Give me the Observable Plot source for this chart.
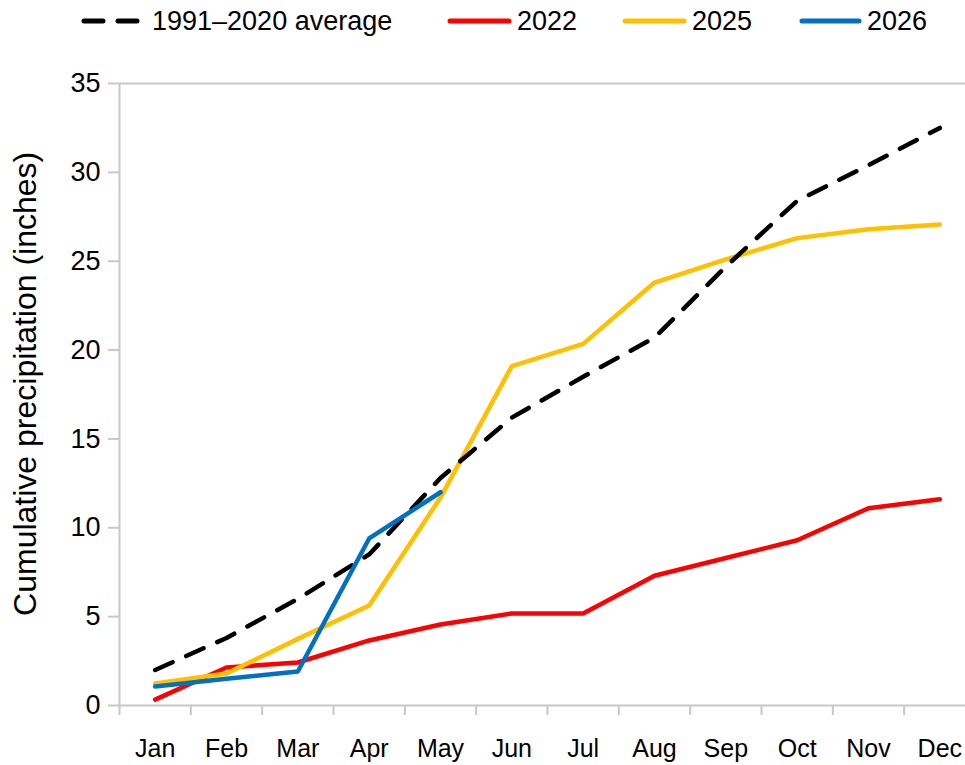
<!DOCTYPE html>
<html>
<head>
<meta charset="utf-8">
<script src="https://cdn.jsdelivr.net/npm/d3@7"></script>
<script src="https://cdn.jsdelivr.net/npm/@observablehq/plot@0.6"></script>
<style>
  html, body { margin: 0; padding: 0; background: #fff; overflow: hidden; }
  body { width: 965px; height: 765px; font-family: "Liberation Sans", Arial, sans-serif; }
  #legend { position: relative; height: 45px; width: 965px; }
  .item { position: absolute; top: 0; height: 42px; display: flex; align-items: center; font-size: 27px; color: #000; }
  .item svg { margin-right: 5px; }
  #chart svg { display: block; overflow: visible; }
</style>
</head>
<body>
<div id="legend"></div>
<div id="chart"></div>
<script>
const months = ["Jan","Feb","Mar","Apr","May","Jun","Jul","Aug","Sep","Oct","Nov","Dec"];
const average = [2.0, 3.8, 6.0, 8.5, 12.8, 16.2, 18.5, 20.7, 24.7, 28.4, 30.4, 32.5];
const y2022 = [0.33, 2.14, 2.42, 3.66, 4.56, 5.18, 5.18, 7.3, 8.3, 9.3, 11.1, 11.6];
const y2025 = [1.24, 1.8, 3.75, 5.63, 11.7, 19.1, 20.35, 23.8, 25.1, 26.3, 26.8, 27.07];
const y2026 = [1.07, 1.5, 1.91, 9.4, 12.0];
const yTicks = [0, 5, 10, 15, 20, 25, 30, 35];
const seriesNames = ["1991\u20132020 average", "2022", "2025", "2026"];
const seriesColors = ["#000000", "#FF0000", "#FFC000", "#0070C0"];

const toRows = (arr, name) => arr.map((v, i) => ({month: i + 1, value: v, series: name}));
const avgRows = toRows(average, seriesNames[0]);
const r2022 = toRows(y2022, seriesNames[1]);
const r2025 = toRows(y2025, seriesNames[2]);
const r2026 = toRows(y2026, seriesNames[3]);

// Legend
const legendPos = [[81, 66], [447, 65], [622, 65], [799, 63]];
const legend = document.getElementById("legend");
seriesNames.forEach((name, i) => {
  const div = document.createElement("div");
  div.className = "item";
  div.style.left = legendPos[i][0] + "px";
  const w = legendPos[i][1];
  const dash = i === 0 ? ' stroke-dasharray="19,15"' : '';
  div.innerHTML = `<svg width="${w}" height="10"><line x1="3" y1="5" x2="${w-3}" y2="5" stroke="${seriesColors[i]}" stroke-width="5" stroke-linecap="round"${dash}/></svg><span>${name}</span>`;
  legend.appendChild(div);
});

const gray = "#c8c8c8";
const bandEdges = d3.range(0, 13).map(i => i + 0.5);
const monthIdx = months.map((m, i) => i + 1);

const plot = Plot.plot({
  width: 965,
  height: 720,
  marginTop: 38,
  marginBottom: 60,
  marginLeft: 119,
  marginRight: 0,
  x: {domain: [0.5, 12.5], range: [119, 975]},
  y: {domain: [0, 35], range: [660, 38]},
  style: {fontFamily: "Liberation Sans, Arial, sans-serif", background: "#fff"},
  marks: [
    Plot.ruleY([0, 35], {x1: 0.5, x2: 12.5, stroke: gray, strokeWidth: 2}),
    Plot.ruleX([0.5], {y1: 0, y2: 35, stroke: gray, strokeWidth: 2}),
    Plot.axisY({ticks: yTicks, tickSize: 11, tickPadding: 8, stroke: gray, strokeWidth: 2, fontSize: 27, color: "#000", label: null, tickFormat: d => d}),
    Plot.axisX({ticks: bandEdges, tickSize: 10, stroke: gray, strokeWidth: 2, tickFormat: () => "", label: null}),
    Plot.axisX({ticks: monthIdx, tickSize: 0, tickPadding: 34, fontSize: 25, color: "#000", tickFormat: d => months[d - 1], label: null}),
    Plot.text(["Cumulative precipitation (inches)"], {frameAnchor: "left", y: 18.1, dx: -94, rotate: -90, textAnchor: "middle", fontSize: 32, fill: "#000"}),
    Plot.line(r2022, {x: "month", y: "value", stroke: seriesColors[1], strokeWidth: 4.5}),
    Plot.line(r2025, {x: "month", y: "value", stroke: seriesColors[2], strokeWidth: 4.5}),
    Plot.line(avgRows, {x: "month", y: "value", stroke: seriesColors[0], strokeWidth: 4.5, strokeDasharray: "19,15", strokeLinecap: "round"}),
    Plot.line(r2026, {x: "month", y: "value", stroke: seriesColors[3], strokeWidth: 4.5})
  ]
});
document.getElementById("chart").appendChild(plot);
</script>
</body>
</html>
